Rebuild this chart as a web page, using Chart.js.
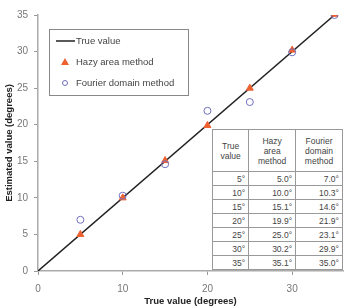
<!DOCTYPE html>
<html>
<head>
<meta charset="utf-8">
<script src="https://cdn.jsdelivr.net/npm/chart.js@4.4.1/dist/chart.umd.min.js"></script>
<style>
    html, body { margin: 0; padding: 0; background: #fff; }
    #wrap { position: relative; width: 351px; height: 307px; }
    #resultTable {
        position: absolute; left: 212px; top: 129px; width: 131px; height: 141px;
        border-collapse: collapse; background: #fff;
        font-family: "Liberation Sans", Arial, sans-serif; font-size: 8.5px; color: #444;
        border: 1px solid #777;
    }
    #resultTable th, #resultTable td { border: 1px solid #999; padding: 0 3px; line-height: 10px; }
    #resultTable th { font-weight: normal; text-align: center; height: 41px; }
    #resultTable td { text-align: right; height: 13px; }
</style>
</head>
<body>
<div id="wrap">
    <canvas id="scatterChart" width="351" height="307"></canvas>
    <table id="resultTable"></table>
</div>
<script>
// Values
const trueValues = [5, 10, 15, 20, 25, 30, 35];
const hazyValues = [5.0, 10.0, 15.1, 19.9, 25.0, 30.2, 35.1];
const fourierValues = [7.0, 10.3, 14.6, 21.9, 23.1, 29.9, 35.0];
const xTickValues = [0, 10, 20, 30];
const yTickValues = [0, 5, 10, 15, 20, 25, 30, 35];
const tableHeaders = ['True<br>value', 'Hazy<br>area<br>method', 'Fourier<br>domain<br>method'];

// Build the table from the arrays
const table = document.getElementById('resultTable');
let html = '<tr>' + tableHeaders.map(h => '<th>' + h + '</th>').join('') + '</tr>';
trueValues.forEach(function(t, i) {
    html += '<tr><td>' + t + '°</td><td>' + hazyValues[i].toFixed(1) + '°</td><td>' +
        fourierValues[i].toFixed(1) + '°</td></tr>';
});
table.innerHTML = html;

// Legend box drawn inside the plot
const legendBox = {
    id: 'legendBox',
    afterDraw(chart) {
        const ctx = chart.ctx;
        ctx.save();
        ctx.fillStyle = '#fff';
        ctx.fillRect(49.5, 29.5, 139, 66);
        ctx.strokeStyle = '#888';
        ctx.lineWidth = 1;
        ctx.strokeRect(49.5, 29.5, 139, 66);
        ctx.font = '9.5px "Liberation Sans", Arial, sans-serif';
        ctx.fillStyle = '#444';
        ctx.textBaseline = 'middle';
        const items = chart.data.datasets.map(d => d.label);
        const ys = [41, 62, 83];
        items.forEach(function(label, i) {
            const y = ys[i];
            if (i === 0) {
                ctx.strokeStyle = '#222';
                ctx.lineWidth = 1.5;
                ctx.beginPath();
                ctx.moveTo(56, y);
                ctx.lineTo(75, y);
                ctx.stroke();
            } else if (i === 1) {
                ctx.fillStyle = '#ee6030';
                ctx.beginPath();
                ctx.moveTo(65, y - 4);
                ctx.lineTo(69, y + 3);
                ctx.lineTo(61, y + 3);
                ctx.closePath();
                ctx.fill();
            } else {
                ctx.strokeStyle = '#7070c0';
                ctx.lineWidth = 1;
                ctx.beginPath();
                ctx.arc(65, y, 2.5, 0, Math.PI * 2);
                ctx.stroke();
            }
            ctx.fillStyle = '#444';
            ctx.fillText(label, 76, y);
        });
        ctx.restore();
    }
};

new Chart(document.getElementById('scatterChart'), {
    type: 'scatter',
    data: {
        datasets: [{
            label: 'True value',
            data: [{x: 0, y: 0}, {x: 35, y: 35}],
            showLine: true,
            borderColor: '#222',
            borderWidth: 1.5,
            pointRadius: 0,
            order: 3
        }, {
            label: 'Hazy area method',
            data: trueValues.map((t, i) => ({x: t, y: hazyValues[i]})),
            pointStyle: 'triangle',
            pointRadius: 4,
            backgroundColor: '#ee6030',
            borderColor: '#ee6030',
            order: 2
        }, {
            label: 'Fourier domain method',
            data: trueValues.map((t, i) => ({x: t, y: fourierValues[i]})),
            pointStyle: 'circle',
            pointRadius: 3.5,
            backgroundColor: 'rgba(0,0,0,0)',
            borderColor: '#7070c0',
            borderWidth: 1,
            order: 1
        }]
    },
    options: {
        responsive: false,
        animation: false,
        layout: { padding: { top: 15, right: 8, left: 0, bottom: 0 } },
        plugins: { legend: { display: false }, tooltip: { enabled: false } },
        scales: {
            x: {
                type: 'linear', min: 0, max: 36,
                afterBuildTicks: axis => { axis.ticks = xTickValues.map(v => ({value: v})); },
                afterFit: axis => { axis.height = 36; },
                border: { color: '#aaa', width: 1.5 },
                grid: { drawOnChartArea: false, tickLength: 4, color: '#999' },
                ticks: { color: '#777', font: { family: '"Liberation Sans", Arial', size: 10 }, padding: 8 },
                title: { display: true, text: 'True value (degrees)', color: '#222',
                    font: { family: '"Liberation Sans", Arial', size: 9.5, weight: 'bold' }, padding: { top: 0, bottom: 0 } }
            },
            y: {
                type: 'linear', min: 0, max: 35,
                afterBuildTicks: axis => { axis.ticks = yTickValues.map(v => ({value: v})); },
                afterFit: axis => { axis.width = 38; },
                border: { color: '#aaa', width: 1.5 },
                grid: { drawOnChartArea: false, tickLength: 4, color: '#999' },
                ticks: { color: '#777', font: { family: '"Liberation Sans", Arial', size: 10 }, padding: 6 },
                title: { display: true, text: 'Estimated value (degrees)', color: '#222',
                    font: { family: '"Liberation Sans", Arial', size: 9.5, weight: 'bold' }, padding: { bottom: 0 } }
            }
        }
    },
    plugins: [legendBox]
});
</script>
</body>
</html>
